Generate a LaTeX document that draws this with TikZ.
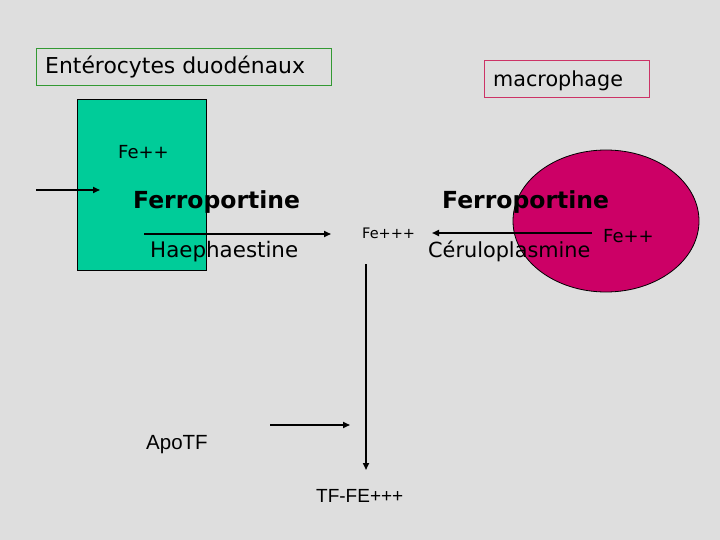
\documentclass[tikz,border=0pt]{standalone}
\usepackage{fontspec}
\setmainfont{DejaVu Sans}
\newfontfamily\arialfont{Liberation Sans}
\usetikzlibrary{arrows.meta}
\definecolor{fondgris}{HTML}{DEDEDE}
\definecolor{vertcell}{HTML}{00CC99}
\definecolor{vertbord}{HTML}{339933}
\definecolor{rosemac}{HTML}{CC0066}
\definecolor{rosebord}{HTML}{CC3366}
\begin{document}
\begin{tikzpicture}[x=1pt,y=-1pt,
  arr/.style={line width=1.6pt,-{Triangle[length=7pt,width=6pt]}},
  lbl/.style={inner sep=0pt,anchor=base west},
  titre/.style={draw,line width=1pt,minimum height=37pt,inner sep=0pt,anchor=north west}]
\fill[fondgris] (0,0) rectangle (720,540);
\useasboundingbox (0,0) rectangle (720,540);

\node[titre,draw=vertbord,minimum width=295pt] (entero) at (36,48) {};
\node[lbl,font=\fontsize{21.9}{24}\selectfont] (enterotxt) at (45,74) {Entérocytes duodénaux};
\node[titre,draw=rosebord,minimum width=165pt] (macro) at (484,60) {};
\node[lbl,font=\fontsize{20.7}{24}\selectfont] (macrotxt) at (493,87) {macrophage};

\draw[fill=vertcell,line width=0.8pt] (77,99) rectangle (206,270);
\draw[fill=rosemac,line width=0.8pt] (606,221) ellipse (93 and 71);

\node[lbl,font=\fontsize{18}{20}\selectfont] (fe2a) at (118,159) {Fe++};
\node[lbl,font=\bfseries\fontsize{23.5}{26}\selectfont] (ferroA) at (133,208) {Ferroportine};
\node[lbl,font=\fontsize{21.4}{24}\selectfont] (haeph) at (150,257) {Haephaestine};
\node[lbl,font=\fontsize{14.5}{16}\selectfont] (fe3) at (362,238) {Fe+++};
\node[lbl,font=\bfseries\fontsize{23.5}{26}\selectfont] (ferroB) at (442,208) {Ferroportine};
\node[lbl,font=\fontsize{20.8}{24}\selectfont] (cerulo) at (428,258) {Céruloplasmine};
\node[lbl,font=\fontsize{18}{20}\selectfont] (fe2b) at (603,243) {Fe++};
\node[lbl,font=\arialfont\fontsize{20.5}{22}\selectfont] (apotf) at (146,449) {ApoTF};
\node[lbl,font=\arialfont\fontsize{19}{22}\selectfont] (tffe) at (316,502) {TF-FE+++};

\coordinate (lumen) at (36,190);
\coordinate (entree) at (100,190);
\coordinate (haephA) at (144,234);
\coordinate (haephB) at (331,234);
\coordinate (ceruA) at (592,233);
\coordinate (ceruB) at (432,233);
\coordinate (descA) at (366,264);
\coordinate (descB) at (366,470);
\coordinate (apoA) at (270,425);
\coordinate (apoB) at (350,425);

\draw[arr] (lumen) -- (entree);
\draw[arr] (haephA) -- (haephB);
\draw[arr] (ceruA) -- (ceruB);
\draw[arr] (descA) -- (descB);
\draw[arr] (apoA) -- (apoB);
\end{tikzpicture}
\end{document}
